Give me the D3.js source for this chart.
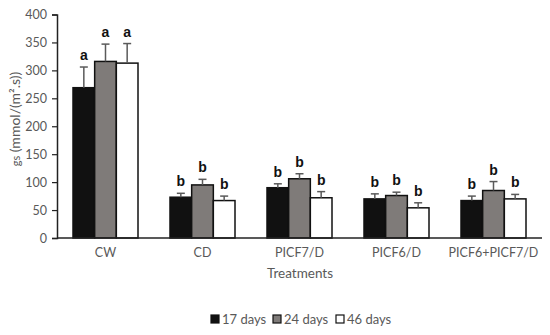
<!DOCTYPE html>
<html>
<head>
<meta charset="utf-8">
<script src="https://cdn.jsdelivr.net/npm/d3@7"></script>
<style>
  body { margin: 0; background: #fff; }
  svg { display: block; font-family: Lato, "Open Sans", sans-serif; }
</style>
</head>
<body>
<svg width="550" height="335"></svg>
<script>
const treatments = ["CW", "CD", "PICF7/D", "PICF6/D", "PICF6+PICF7/D"];
const series = ["17 days", "24 days", "46 days"];
const means17 = [269, 73, 90, 70, 67];
const means24 = [316, 95, 106, 76, 85];
const means46 = [313, 67, 72, 54, 70];
const err17 = [37, 7, 7, 9, 8];
const err24 = [31, 10, 9, 6, 16];
const err46 = [35, 8, 11, 9, 8];
const letters17 = ["a", "b", "b", "b", "b"];
const letters24 = ["a", "b", "b", "b", "b"];
const letters46 = ["a", "b", "b", "b", "b"];
const yTicks = [0, 50, 100, 150, 200, 250, 300, 350, 400];

const fills = ["#111111", "#7f7b79", "#ffffff"];
const textColor = "#595959";

const means = [means17, means24, means46];
const errs = [err17, err24, err46];
const letters = [letters17, letters24, letters46];

const rows = [];
treatments.forEach((t, i) => {
  series.forEach((s, j) => {
    rows.push({ t, s, j, v: means[j][i], e: errs[j][i], l: letters[j][i] });
  });
});

const svg = d3.select("svg");
const x = d3.scaleBand().domain(treatments).range([57, 542]).paddingInner(0).paddingOuter(0);
const xi = d3.scaleBand().domain(series).range([x.bandwidth() / 2 - 32.5, x.bandwidth() / 2 + 32.5]);
const y = d3.scaleLinear().domain([0, 400]).range([238, 14.5]);

// y axis
const yAxis = svg.append("g")
  .attr("transform", "translate(57,0)")
  .call(d3.axisLeft(y).tickValues(yTicks).tickSize(5).tickPadding(5));
yAxis.select(".domain").attr("stroke", "#222").attr("stroke-width", 1.5);
yAxis.selectAll(".tick line").attr("stroke", "#222").attr("stroke-width", 1.2);
yAxis.selectAll("text")
  .attr("fill", textColor)
  .attr("font-size", "12.5px")
  .attr("font-family", "Lato, sans-serif");

// bars
const g = svg.append("g");
g.selectAll("rect.bar")
  .data(rows)
  .enter()
  .append("rect")
  .attr("class", "bar")
  .attr("x", (d) => x(d.t) + xi(d.s))
  .attr("y", (d) => y(d.v))
  .attr("width", xi.bandwidth())
  .attr("height", (d) => y(0) - y(d.v))
  .attr("fill", (d) => fills[d.j])
  .attr("stroke", "#111")
  .attr("stroke-width", 1.5);

// error bars (upper only)
const eb = g.selectAll("g.err")
  .data(rows)
  .enter()
  .append("g")
  .attr("class", "err")
  .attr("stroke", "#5a5a5a")
  .attr("stroke-width", 1.5);
eb.append("line")
  .attr("x1", (d) => x(d.t) + xi(d.s) + xi.bandwidth() / 2)
  .attr("x2", (d) => x(d.t) + xi(d.s) + xi.bandwidth() / 2)
  .attr("y1", (d) => y(d.v))
  .attr("y2", (d) => y(d.v + d.e));
eb.append("line")
  .attr("x1", (d) => x(d.t) + xi(d.s) + xi.bandwidth() / 2 - 4)
  .attr("x2", (d) => x(d.t) + xi(d.s) + xi.bandwidth() / 2 + 4)
  .attr("y1", (d) => y(d.v + d.e))
  .attr("y2", (d) => y(d.v + d.e));

// significance letters
g.selectAll("text.letter")
  .data(rows)
  .enter()
  .append("text")
  .attr("class", "letter")
  .attr("x", (d) => x(d.t) + xi(d.s) + xi.bandwidth() / 2)
  .attr("y", (d) => y(d.v + d.e) - 7)
  .attr("text-anchor", "middle")
  .attr("font-family", "'Liberation Sans', Arial, sans-serif")
  .attr("font-weight", "bold")
  .attr("font-size", "14px")
  .attr("fill", "#111")
  .text((d) => d.l);

// x axis
svg.append("line")
  .attr("x1", 57).attr("x2", 542)
  .attr("y1", y(0)).attr("y2", y(0))
  .attr("stroke", "#222").attr("stroke-width", 1.5);

svg.selectAll("text.cat")
  .data(treatments)
  .enter()
  .append("text")
  .attr("class", "cat")
  .attr("x", (d) => x(d) + x.bandwidth() / 2)
  .attr("y", 257)
  .attr("text-anchor", "middle")
  .attr("fill", textColor)
  .attr("font-size", "12.5px")
  .text((d) => d);

svg.append("text")
  .attr("x", 300).attr("y", 278)
  .attr("text-anchor", "middle")
  .attr("fill", textColor)
  .attr("font-size", "13.5px")
  .text("Treatments");

const yLabel = svg.append("text")
  .attr("transform", "translate(20,119) rotate(-90)")
  .attr("text-anchor", "middle")
  .attr("fill", textColor)
  .attr("font-size", "14px");
yLabel.append("tspan").attr("font-size", "11px").text("gs");
yLabel.append("tspan").text(" (mmol/(m²·s))".replace("·", "."));

// legend
const legendX = [211, 273, 336];
const leg = svg.selectAll("g.legend")
  .data(series)
  .enter()
  .append("g")
  .attr("class", "legend")
  .attr("transform", (d, i) => `translate(${legendX[i]},319)`);
leg.append("rect")
  .attr("x", 0).attr("y", -4)
  .attr("width", 8).attr("height", 8)
  .attr("fill", (d, i) => fills[i])
  .attr("stroke", "#111")
  .attr("stroke-width", 1.2);
leg.append("text")
  .attr("x", 11).attr("y", 4.5)
  .attr("fill", textColor)
  .attr("font-size", "13px")
  .text((d) => d);
</script>
</body>
</html>
